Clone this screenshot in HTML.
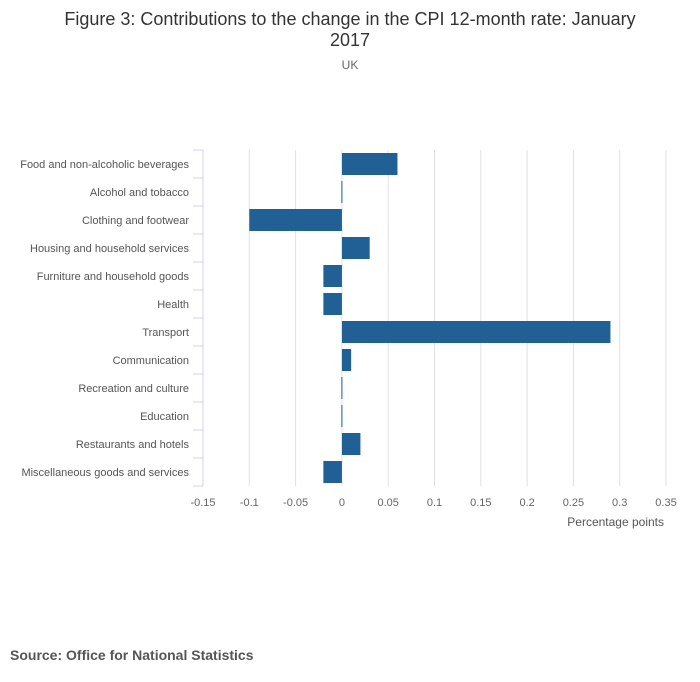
<!DOCTYPE html>
<html><head><meta charset="utf-8"><style>
body{margin:0;background:#fff;font-family:"Liberation Sans",sans-serif;}
svg{display:block}
</style></head><body>
<svg width="700" height="682">
<text x="350" y="25" text-anchor="middle" font-size="18" fill="#333">Figure 3: Contributions to the change in the CPI 12-month rate: January</text>
<text x="350" y="46" text-anchor="middle" font-size="18" fill="#333">2017</text>
<text x="350" y="69" text-anchor="middle" font-size="12" fill="#666">UK</text>
<g id="grid"></g><g id="bars"></g><g id="yaxis"></g><g id="xaxis"></g>
<text x="664" y="526" text-anchor="end" font-size="12" fill="#555">Percentage points</text>
<text x="10" y="660" font-size="14" font-weight="bold" fill="#555">Source: Office for National Statistics</text>
</svg>
<script>
const categories=["Food and non-alcoholic beverages","Alcohol and tobacco","Clothing and footwear","Housing and household services","Furniture and household goods","Health","Transport","Communication","Recreation and culture","Education","Restaurants and hotels","Miscellaneous goods and services"];
const values=[0.06,0,-0.10,0.03,-0.02,-0.02,0.29,0.01,0,0,0.02,-0.02];
const ticks=[-0.15,-0.1,-0.05,0,0.05,0.1,0.15,0.2,0.25,0.3,0.35];
const tickLabels=["-0.15","-0.1","-0.05","0","0.05","0.1","0.15","0.2","0.25","0.3","0.35"];
const NS="http://www.w3.org/2000/svg";
const x0=203,x1=666,plotTop=150,rowH=28;
function xs(v){return x0+(v-(-0.15))/(0.5)*(x1-x0);}
function yRow(i){return plotTop+i*rowH;}
const plotBottom=yRow(categories.length);
function mk(t,a,p){const e=document.createElementNS(NS,t);for(const k in a)e.setAttribute(k,a[k]);p.appendChild(e);return e;}
const grid=document.getElementById('grid'),bars=document.getElementById('bars'),ya=document.getElementById('yaxis'),xa=document.getElementById('xaxis');
ticks.forEach((t,i)=>{
 if(i>0){const g=mk('line',{x1:xs(t),x2:xs(t),y1:plotTop,y2:plotBottom,stroke:'#e0e0e0','stroke-width':1},grid);
 
 }
 const l=mk('text',{x:xs(t),y:plotBottom+20,'text-anchor':'middle','font-size':11,fill:'#666'},xa);
 l.textContent=tickLabels[i];
 
 
});
const ax=mk('line',{x1:x0,x2:x0,y1:plotTop,y2:plotBottom,stroke:'#ccd6eb','stroke-width':1},ya);


for(let i=0;i<=categories.length;i++){
 const t=mk('line',{x1:x0-10,x2:x0,y1:yRow(i),y2:yRow(i),stroke:'#ccd6eb','stroke-width':1},ya);
 
 
}
categories.forEach((c,i)=>{
 const l=mk('text',{x:189,y:yRow(i)+18,'text-anchor':'end','font-size':11,fill:'#555'},ya);
 l.textContent=c;
 
 
 const v=values[i];
 let a=xs(Math.min(0,v)),b=xs(Math.max(0,v));
 let w=b-a; if(w<1){a=xs(0)-0.5;w=1;}
 const r=mk('rect',{x:a,y:yRow(i)+3,width:w,height:22,fill:'#206095'},bars);
 
 
});
</script>
</body></html>
